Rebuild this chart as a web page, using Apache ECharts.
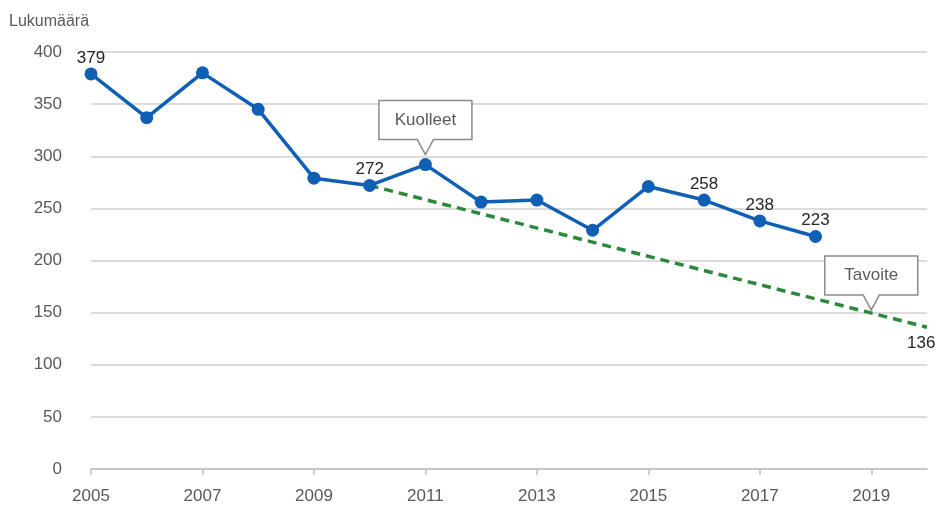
<!DOCTYPE html>
<html>
<head>
<meta charset="utf-8">
<script src="https://cdn.jsdelivr.net/npm/echarts@6/dist/echarts.min.js"></script>
<style>
  html, body { margin: 0; padding: 0; background: #fff; }
  #chart { width: 937px; height: 509px; }
</style>
</head>
<body>
<div id="chart"></div>
<script>
// Years on the horizontal axis
const years = ['2005','2006','2007','2008','2009','2010','2011','2012','2013','2014','2015','2016','2017','2018','2019','2020'];
// Road deaths per year
const deaths = [379, 337, 380, 345, 279, 272, 292, 256, 258, 229, 271, 258, 238, 223];
// Target path: start and end
const targetYears = ['2010', '2020'];
const targetValues = [272, 136];
// Years whose value is printed
const labelledYears = ['2005', '2010', '2016', '2017', '2018'];
const yTicks = { min: 0, max: 400, step: 50 };

const FONT = "'Liberation Sans Narrow', 'Arial Narrow', 'Liberation Sans', Arial, sans-serif";
const BLUE = '#0f5fb5';
const GREEN = '#2a8a3a';
const GREY_TEXT = '#595959';
const FS = 17;

const chart = echarts.init(document.getElementById('chart'));

const blueData = deaths.map((v, i) => ({
  value: v,
  label: { show: labelledYears.includes(years[i]) }
}));

chart.setOption({
  animation: false,
  textStyle: { fontFamily: FONT },
  grid: { left: 91, right: 10, top: 52, bottom: 40 },
  xAxis: {
    type: 'category',
    data: years,
    boundaryGap: false,
    axisLine: { lineStyle: { color: '#bfbfbf', width: 1.5 } },
    axisTick: { interval: 1, length: 6, lineStyle: { color: '#bfbfbf', width: 1.5 } },
    axisLabel: { interval: 1, color: GREY_TEXT, fontSize: FS, fontFamily: FONT, margin: 19 },
    splitLine: { show: false }
  },
  yAxis: {
    type: 'value',
    min: yTicks.min, max: yTicks.max, interval: yTicks.step,
    name: 'Lukumäärä',
    nameLocation: 'end',
    nameGap: 0,
    nameTextStyle: { color: GREY_TEXT, fontSize: 16, fontFamily: FONT, align: 'left', padding: [0, 0, 22, -82] },
    axisLine: { show: false },
    axisTick: { show: false },
    axisLabel: { color: GREY_TEXT, fontSize: FS, fontFamily: FONT, margin: 29 },
    splitLine: { lineStyle: { color: '#d0d0d0', width: 1.5 } }
  },
  series: [
    {
      type: 'line',
      data: targetYears.map((y, i) => [y, targetValues[i]]),
      showSymbol: false,
      symbol: 'none',
      lineStyle: { color: GREEN, width: 3.5, type: [9, 6] },
      label: { show: false },
      endLabel: {
        show: true,
        formatter: (p) => p.value[1],
        color: '#262626', fontSize: FS, fontFamily: FONT,
        offset: [-28, 16]
      },
      z: 1
    },
    {
      type: 'line',
      data: blueData,
      symbol: 'circle',
      symbolSize: 13,
      itemStyle: { color: BLUE },
      lineStyle: { color: BLUE, width: 3.5 },
      label: { position: 'top', distance: 1, color: '#262626', fontSize: FS, fontFamily: FONT },
      z: 3
    }
  ]
});

// Callout boxes with a downward pointer, anchored on chart coordinates
function callout(tipX, tipY, text) {
  const w = 93, h = 39, ptr = 15, half = 8;
  const bx = tipX - w / 2, by = tipY - ptr - h;
  const pts = [
    [bx, by], [bx + w, by], [bx + w, by + h],
    [tipX + half, by + h], [tipX, tipY], [tipX - half, by + h],
    [bx, by + h]
  ];
  return [
    {
      type: 'polygon',
      shape: { points: pts },
      style: { fill: '#ffffff', stroke: '#8c8c8c', lineWidth: 1.5 },
      z: 10
    },
    {
      type: 'text',
      x: tipX, y: by + h / 2,
      style: { text: text, fill: GREY_TEXT, font: FS + 'px ' + FONT, align: 'center', verticalAlign: 'middle' },
      z: 11
    }
  ];
}

const i2011 = years.indexOf('2011');
const p2011 = chart.convertToPixel({ seriesIndex: 1 }, [i2011, deaths[i2011]]);
const a = chart.convertToPixel({ seriesIndex: 0 }, [targetYears[0], targetValues[0]]);
const b = chart.convertToPixel({ seriesIndex: 0 }, [targetYears[1], targetValues[1]]);
const x2019 = chart.convertToPixel({ xAxisIndex: 0 }, '2019');
const y2019 = a[1] + (b[1] - a[1]) * (x2019 - a[0]) / (b[0] - a[0]);

chart.setOption({
  graphic: [
    ...callout(p2011[0], p2011[1] - 10, 'Kuolleet'),
    ...callout(x2019, y2019 - 3, 'Tavoite')
  ]
});
</script>
</body>
</html>
